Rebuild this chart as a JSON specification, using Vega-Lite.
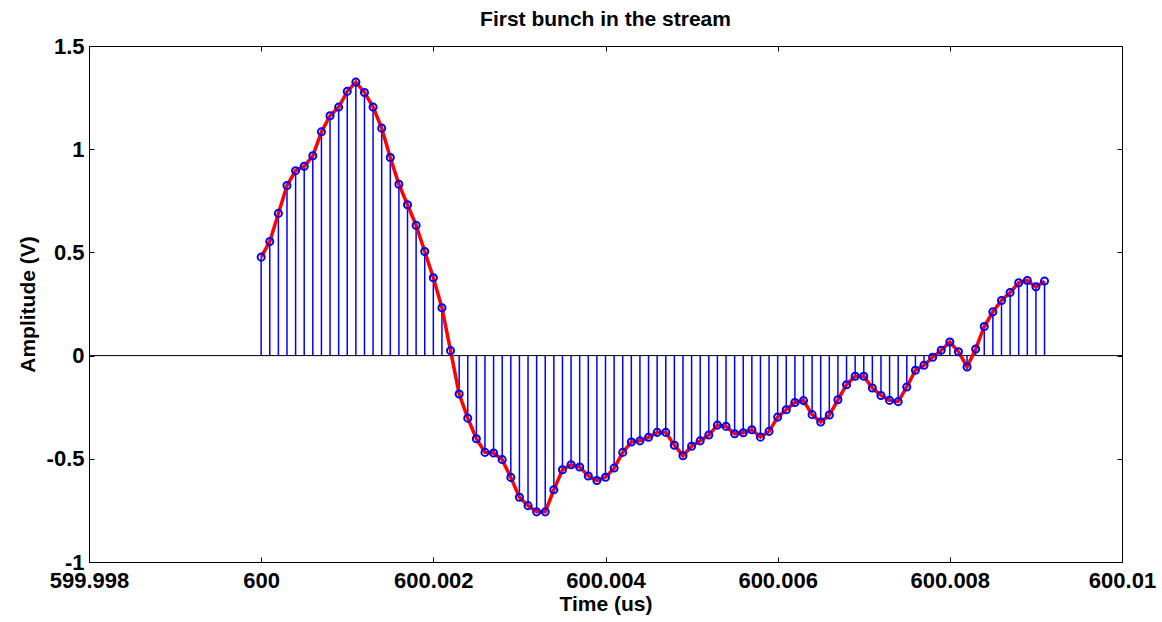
{
  "$schema": "https://vega.github.io/schema/vega-lite/v6.json",
  "width": 1033,
  "height": 516,
  "autosize": {"type": "none"},
  "padding": {"left": 89, "top": 46, "right": 40, "bottom": 60},
  "background": "white",
  "title": {"text": "First bunch in the stream", "fontSize": 21, "font": "Liberation Sans", "fontWeight": "bold", "color": "black", "anchor": "middle", "offset": 5},
  "config": {
    "view": {"stroke": null},
    "axis": {
      "labelFont": "Liberation Sans", "labelFontWeight": "bold", "labelFontSize": 22, "labelColor": "black",
      "titleFont": "Liberation Sans", "titleFontWeight": "bold", "titleFontSize": 21, "titleColor": "black",
      "domainColor": "black", "domainWidth": 1, "tickColor": "black", "tickWidth": 1, "grid": false, "tickSize": -5
    }
  },
  "data": {"values": [
    {"t": 600.0000, "v": 0.477}, {"t": 600.0001, "v": 0.553}, {"t": 600.0002, "v": 0.689}, {"t": 600.0003, "v": 0.824},
    {"t": 600.0004, "v": 0.896}, {"t": 600.0005, "v": 0.917}, {"t": 600.0006, "v": 0.968}, {"t": 600.0007, "v": 1.084},
    {"t": 600.0008, "v": 1.162}, {"t": 600.0009, "v": 1.204}, {"t": 600.0010, "v": 1.280}, {"t": 600.0011, "v": 1.325},
    {"t": 600.0012, "v": 1.275}, {"t": 600.0013, "v": 1.204}, {"t": 600.0014, "v": 1.102}, {"t": 600.0015, "v": 0.960},
    {"t": 600.0016, "v": 0.830}, {"t": 600.0017, "v": 0.731}, {"t": 600.0018, "v": 0.631}, {"t": 600.0019, "v": 0.504},
    {"t": 600.0020, "v": 0.377}, {"t": 600.0021, "v": 0.232}, {"t": 600.0022, "v": 0.024}, {"t": 600.0023, "v": -0.186},
    {"t": 600.0024, "v": -0.303}, {"t": 600.0025, "v": -0.403}, {"t": 600.0026, "v": -0.469}, {"t": 600.0027, "v": -0.472},
    {"t": 600.0028, "v": -0.504}, {"t": 600.0029, "v": -0.590}, {"t": 600.0030, "v": -0.686}, {"t": 600.0031, "v": -0.727},
    {"t": 600.0032, "v": -0.757}, {"t": 600.0033, "v": -0.757}, {"t": 600.0034, "v": -0.650}, {"t": 600.0035, "v": -0.553},
    {"t": 600.0036, "v": -0.529}, {"t": 600.0037, "v": -0.540}, {"t": 600.0038, "v": -0.583}, {"t": 600.0039, "v": -0.605},
    {"t": 600.0040, "v": -0.589}, {"t": 600.0041, "v": -0.545}, {"t": 600.0042, "v": -0.469}, {"t": 600.0043, "v": -0.419},
    {"t": 600.0044, "v": -0.413}, {"t": 600.0045, "v": -0.396}, {"t": 600.0046, "v": -0.372}, {"t": 600.0047, "v": -0.372},
    {"t": 600.0048, "v": -0.434}, {"t": 600.0049, "v": -0.485}, {"t": 600.0050, "v": -0.439}, {"t": 600.0051, "v": -0.413},
    {"t": 600.0052, "v": -0.385}, {"t": 600.0053, "v": -0.337}, {"t": 600.0054, "v": -0.343}, {"t": 600.0055, "v": -0.379},
    {"t": 600.0056, "v": -0.374}, {"t": 600.0057, "v": -0.359}, {"t": 600.0058, "v": -0.395}, {"t": 600.0059, "v": -0.367},
    {"t": 600.0060, "v": -0.298}, {"t": 600.0061, "v": -0.262}, {"t": 600.0062, "v": -0.227}, {"t": 600.0063, "v": -0.218},
    {"t": 600.0064, "v": -0.286}, {"t": 600.0065, "v": -0.322}, {"t": 600.0066, "v": -0.288}, {"t": 600.0067, "v": -0.214},
    {"t": 600.0068, "v": -0.141}, {"t": 600.0069, "v": -0.100}, {"t": 600.0070, "v": -0.100}, {"t": 600.0071, "v": -0.157},
    {"t": 600.0072, "v": -0.193}, {"t": 600.0073, "v": -0.217}, {"t": 600.0074, "v": -0.223}, {"t": 600.0075, "v": -0.152},
    {"t": 600.0076, "v": -0.071}, {"t": 600.0077, "v": -0.047}, {"t": 600.0078, "v": -0.008}, {"t": 600.0079, "v": 0.026},
    {"t": 600.0080, "v": 0.066}, {"t": 600.0081, "v": 0.019}, {"t": 600.0082, "v": -0.055}, {"t": 600.0083, "v": 0.032},
    {"t": 600.0084, "v": 0.141}, {"t": 600.0085, "v": 0.212}, {"t": 600.0086, "v": 0.267}, {"t": 600.0087, "v": 0.306},
    {"t": 600.0088, "v": 0.353}, {"t": 600.0089, "v": 0.364}, {"t": 600.0090, "v": 0.333}, {"t": 600.0091, "v": 0.361}
  ]},
  "layer": [
    {
      "data": {"values": [{"base": 0}]},
      "mark": {"type": "rule", "color": "black", "strokeWidth": 1},
      "encoding": {
        "y": {"field": "base", "type": "quantitative", "scale": {"domain": [-1, 1.5], "nice": false, "zero": false}, "axis": null}
      }
    },
    {
      "mark": {"type": "rule", "color": "#0000ff", "strokeWidth": 1.5},
      "encoding": {
        "x": {"field": "t", "type": "quantitative", "scale": {"domain": [599.998, 600.01], "nice": false, "zero": false},
          "axis": {"orient": "bottom", "title": "Time (us)", "values": [599.998, 600, 600.002, 600.004, 600.006, 600.008, 600.01],
            "labelExpr": "format(datum.value, '.3~f')", "labelFlush": false, "labelOverlap": false, "labelBound": false,
            "labelPadding": 13, "titlePadding": 2}},
        "y": {"field": "v", "type": "quantitative", "scale": {"domain": [-1, 1.5], "nice": false, "zero": false},
          "axis": {"orient": "left", "title": "Amplitude (V)", "values": [-1, -0.5, 0, 0.5, 1, 1.5],
            "labelExpr": "datum.value < 0 ? '-' + format(-datum.value, '~g') : format(datum.value, '~g')",
            "labelPadding": 10, "labelOverlap": false, "labelFlush": false, "titlePadding": 8}},
        "y2": {"datum": 0}
      }
    },
    {
      "mark": {"type": "line", "color": "#ff0000", "strokeWidth": 3.5},
      "encoding": {
        "x": {"field": "t", "type": "quantitative",
          "axis": {"orient": "top", "title": null, "labels": false, "values": [599.998, 600, 600.002, 600.004, 600.006, 600.008, 600.01]}},
        "y": {"field": "v", "type": "quantitative",
          "axis": {"orient": "right", "title": null, "labels": false, "values": [-1, -0.5, 0, 0.5, 1, 1.5]}}
      }
    },
    {
      "mark": {"type": "point", "shape": "circle", "filled": false, "stroke": "#0000ff", "strokeWidth": 2, "size": 50, "opacity": 1},
      "encoding": {
        "x": {"field": "t", "type": "quantitative", "axis": null},
        "y": {"field": "v", "type": "quantitative", "axis": null}
      }
    }
  ],
  "resolve": {"axis": {"x": "independent", "y": "independent"}}
}
